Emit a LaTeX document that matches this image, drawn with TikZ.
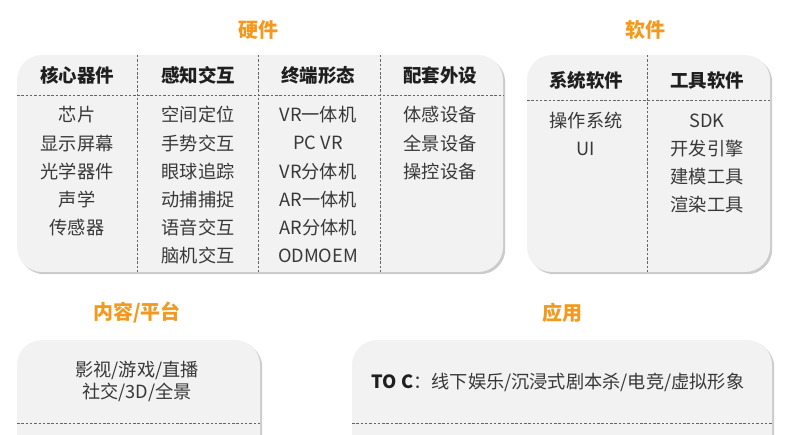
\documentclass[tikz,border=0pt]{standalone}
\usepackage{fontspec}
\setmainfont{Noto Sans CJK SC}
\usetikzlibrary{shadows}
\definecolor{panelgray}{HTML}{F2F2F2}
\definecolor{titleorange}{HTML}{F39A1E}
\definecolor{bodytext}{HTML}{383838}
\tikzset{
    panel/.style={rectangle, rounded corners=25pt, fill=panelgray, inner sep=0pt, drop shadow={shadow xshift=2.2pt, shadow yshift=-2.2pt, fill=black!45, opacity=0.45}},
    title/.style={font=\fontsize{20}{23}\selectfont\bfseries, text=titleorange, inner sep=0pt},
    header/.style={font=\fontsize{18.5}{21}\selectfont\bfseries, text=black!88, inner sep=0pt},
    item/.style={font=\fontsize{18.2}{22}\selectfont, text=bodytext, inner sep=0pt, align=center},
    divider/.style={draw=black!60, line width=0.8pt, dash pattern=on 2.5pt off 1.8pt},
}

\begin{document}
\begin{tikzpicture}[x=1pt, y=-1pt]
\useasboundingbox (0,0) rectangle (800,435);
\clip (0,0) rectangle (800,435);

\node[title] (hwtitle) at (258, 30) {硬件};
\node[title] (swtitle) at (645, 30) {软件};
\node[title] (cttitle) at (137, 313) {内容/平台};
\node[title] (aptitle) at (562, 313) {应用};

\node[panel, minimum width=486pt, minimum height=217pt] (hw) at (260, 163.5) {};
\node[panel, minimum width=243pt, minimum height=217pt] (sw) at (648.5, 163.5) {};
\node[panel, minimum width=243pt, minimum height=170pt] (ct) at (138.5, 425) {};
\node[panel, minimum width=420pt, minimum height=170pt] (ap) at (562, 425) {};

\draw[divider] (17, 95) -- (503, 95);
\foreach \x in {137, 258, 380}
    \draw[divider] (\x, 55) -- (\x, 272);
\draw[divider] (527, 100) -- (770, 100);
\draw[divider] (647, 55) -- (647, 272);
\draw[divider] (17, 423) -- (260, 423);
\draw[divider] (352, 423) -- (772, 423);

\node[header] (core) at (77, 75) {核心器件};
\node[header] (sense) at (198, 75) {感知交互};
\node[header] (term) at (318, 75) {终端形态};
\node[header] (periph) at (440, 75) {配套外设};
\node[header] (sys) at (586, 80) {系统软件};
\node[header] (tool) at (707, 80) {工具软件};

\foreach \txt [count=\i] in {芯片, 显示屏幕, 光学器件, 声学, 传感器}
    \node[item] (core\i) at (77, {115+28.2*(\i-1)}) {\txt};
\foreach \txt [count=\i] in {空间定位, 手势交互, 眼球追踪, 动捕捕捉, 语音交互, 脑机交互}
    \node[item] (sense\i) at (198, {115+28.2*(\i-1)}) {\txt};
\foreach \txt [count=\i] in {VR一体机, PC VR, VR分体机, AR一体机, AR分体机, ODMOEM}
    \node[item] (term\i) at (318, {115+28.2*(\i-1)}) {\txt};
\foreach \txt [count=\i] in {体感设备, 全景设备, 操控设备}
    \node[item] (periph\i) at (440, {115+28.2*(\i-1)}) {\txt};

\foreach \txt [count=\i] in {操作系统, UI}
    \node[item] (sys\i) at (586, {121+27.8*(\i-1)}) {\txt};
\foreach \txt [count=\i] in {SDK, 开发引擎, 建模工具, 渲染工具}
    \node[item] (tool\i) at (707, {121+27.8*(\i-1)}) {\txt};

\node[item] (ctitems) at (137, 381) {影视/游戏/直播\\社交/3D/全景};
\node[item] (apitems) at (558, 382) {\textbf{\color{black!88}TO C}：线下娱乐/沉浸式剧本杀/电竞/虚拟形象};

\end{tikzpicture}
\end{document}
